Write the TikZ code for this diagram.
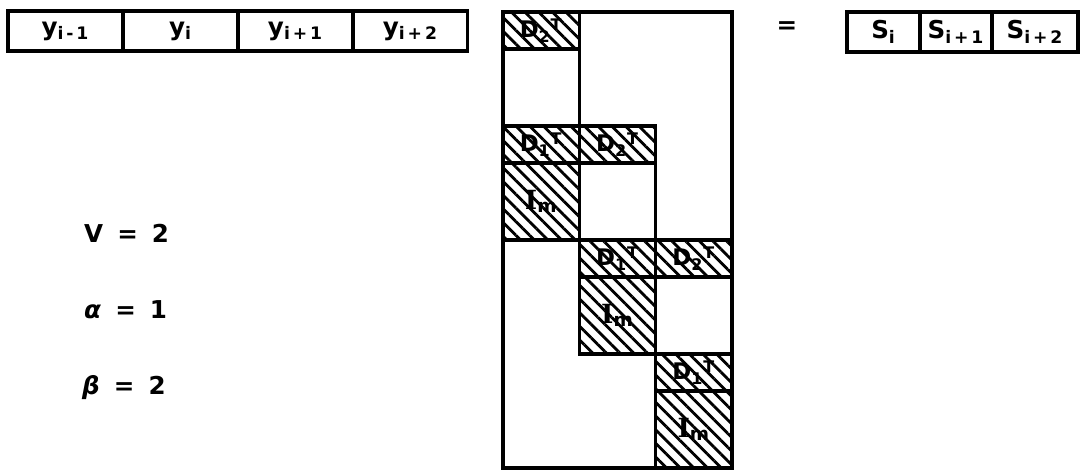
\documentclass[tikz,border=0pt]{standalone}
\usepackage{fontspec}
\setmainfont{DejaVu Sans}
\newfontfamily\serifI{DejaVu Serif}
\usetikzlibrary{patterns.meta,positioning}
\newcommand\dtr[1]{D\textsubscript{#1}\textsuperscript{T}}
\newcommand\imat{{\serifI I}\textsubscript{m}}

\tikzset{
  vecbox/.style={draw, line width=1.8pt, minimum height=0.8cm, inner sep=0pt, outer sep=0pt, font=\fontsize{14}{14}\selectfont\bfseries},
  blkcell/.style={draw, line width=1.8pt, anchor=north west, minimum width=1.526cm, inner sep=0pt, outer sep=0pt},
  hatched/.style={pattern={Lines[angle=-45,distance=5.5pt,line width=1.6pt]}},
  dcell/.style={blkcell, hatched, minimum height=0.74cm, font=\fontsize{13}{13}\selectfont\bfseries},
  icell/.style={blkcell, hatched, minimum height=1.54cm, font=\fontsize{15}{15}\selectfont\bfseries},
  ecell/.style={blkcell, minimum height=1.54cm},
  param/.style={anchor=west, font=\fontsize{14}{14}\selectfont\bfseries}
}

\begin{document}
\begin{tikzpicture}[x=0.02cm, y=-0.02cm]
\useasboundingbox (0,0) rectangle (1085,471);

% left vector
\node[vecbox, minimum width=2.3cm, anchor=north west] (ym) at (8,11) {y\textsubscript{i\,-\,1}};
\node[vecbox, minimum width=2.3cm, right=0pt of ym] (yi) {y\textsubscript{i}};
\node[vecbox, minimum width=2.3cm, right=0pt of yi] (yp) {y\textsubscript{i\,+\,1}};
\node[vecbox, minimum width=2.3cm, right=0pt of yp] (ypp) {y\textsubscript{i\,+\,2}};

% block matrix, one column of blocks per step
\foreach \c in {0,1,2}{
  \pgfmathsetmacro\cx{503+76.3*\c}
  \pgfmathsetmacro\cy{12+114*\c}
  \node[dcell] (dtwo\c) at (\cx,\cy) {\dtr{2}};
  \node[ecell, below=0pt of dtwo\c] (zero\c) {};
  \node[dcell, below=0pt of zero\c] (done\c) {\dtr{1}};
  \node[icell, below=0pt of done\c] (ident\c) {\imat};
}
\node[draw, line width=1.8pt, anchor=north west, minimum width=4.58cm, minimum height=9.12cm, inner sep=0pt, outer sep=0pt] (frame) at (503,12) {};

% right hand side
\node[font=\fontsize{14}{14}\selectfont\bfseries] (eq) at (787,28) {=};
\node[vecbox, minimum width=1.46cm, anchor=north west] (si) at (847,12) {S\textsubscript{i}};
\node[vecbox, minimum width=1.44cm, right=0pt of si] (sp) {S\textsubscript{i\,+\,1}};
\node[vecbox, minimum width=1.72cm, right=0pt of sp] (spp) {S\textsubscript{i\,+\,2}};

% parameters
\node[param] (vval) at (78,233) {V\hspace{8pt}=\hspace{8pt}2};
\node[param] (aval) at (78,310) {\textit{α}\hspace{8pt}=\hspace{8pt}1};
\node[param] (bval) at (76,388) {\textit{β}\hspace{8pt}=\hspace{8pt}2};
\end{tikzpicture}
\end{document}
